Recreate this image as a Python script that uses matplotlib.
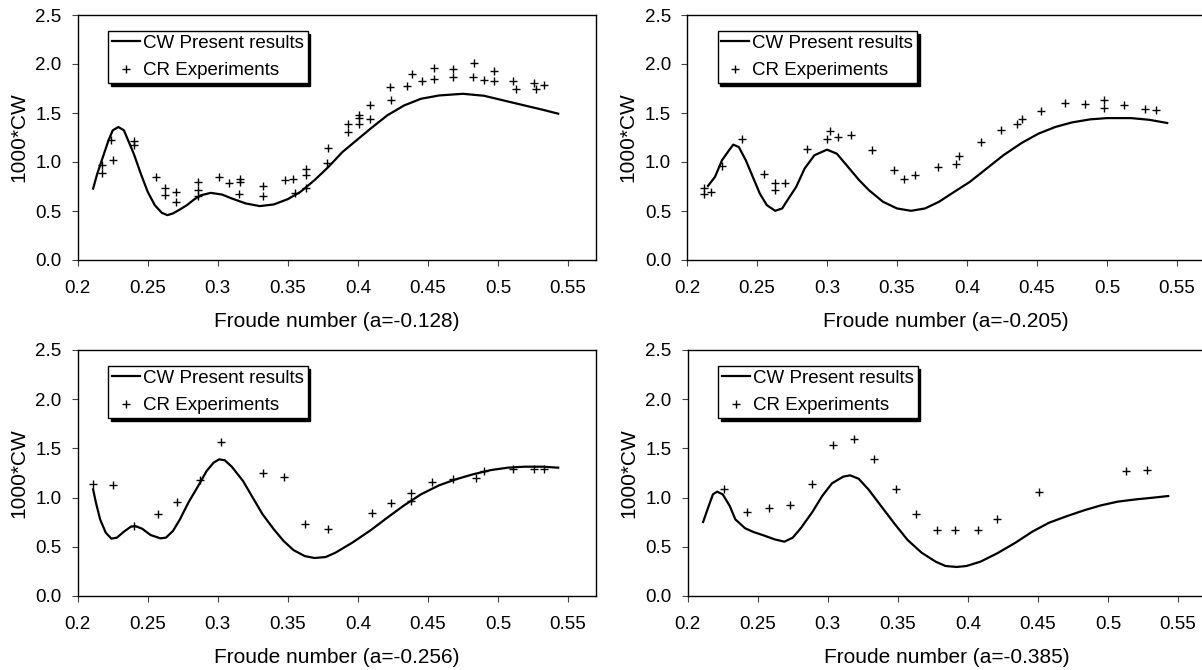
import numpy as np
import matplotlib
matplotlib.use('Agg')
import matplotlib.pyplot as plt

plt.rcParams['font.family'] = ['Liberation Sans', 'DejaVu Sans']

# a = -0.128
fn1_cw = [0.211, 0.214, 0.218, 0.222, 0.225, 0.229, 0.233, 0.236, 0.240, 0.245, 0.250, 0.255, 0.260,
          0.264, 0.268, 0.273, 0.278, 0.283, 0.288, 0.295, 0.303, 0.310, 0.320, 0.330, 0.340, 0.350,
          0.359, 0.369, 0.379, 0.389, 0.399, 0.409, 0.421, 0.433, 0.445, 0.458, 0.475, 0.490, 0.504,
          0.519, 0.532, 0.543]
cw1 = [0.729, 0.882, 1.052, 1.221, 1.323, 1.357, 1.323, 1.221, 1.085, 0.882, 0.695, 0.560, 0.482,
       0.458, 0.475, 0.516, 0.560, 0.617, 0.661, 0.685, 0.668, 0.628, 0.577, 0.550, 0.567, 0.621,
       0.695, 0.814, 0.950, 1.102, 1.221, 1.340, 1.476, 1.577, 1.645, 1.679, 1.696, 1.676, 1.628,
       1.577, 1.533, 1.493]
fn1_cr = [0.217, 0.217, 0.224, 0.225, 0.240, 0.240, 0.256, 0.262, 0.262, 0.270, 0.270, 0.286, 0.286,
          0.286, 0.301, 0.308, 0.316, 0.316, 0.315, 0.332, 0.332, 0.348, 0.354, 0.355, 0.363, 0.363,
          0.363, 0.379, 0.378, 0.393, 0.393, 0.401, 0.401, 0.401, 0.409, 0.409, 0.423, 0.424, 0.435,
          0.439, 0.446, 0.454, 0.454, 0.468, 0.468, 0.483, 0.482, 0.490, 0.497, 0.497, 0.511, 0.513,
          0.526, 0.527, 0.533]
cr1 = [0.967, 0.892, 1.228, 1.018, 1.214, 1.170, 0.848, 0.736, 0.661, 0.695, 0.594, 0.797, 0.719,
       0.651, 0.848, 0.787, 0.831, 0.797, 0.678, 0.753, 0.651, 0.814, 0.831, 0.685, 0.933, 0.865,
       0.736, 1.147, 0.994, 1.391, 1.306, 1.482, 1.452, 1.391, 1.584, 1.442, 1.764, 1.635, 1.771,
       1.900, 1.825, 1.957, 1.842, 1.950, 1.872, 2.008, 1.872, 1.832, 1.927, 1.825, 1.822, 1.747,
       1.805, 1.747, 1.788]

# a = -0.205
fn2_cw = [0.215, 0.220, 0.225, 0.230, 0.233, 0.237, 0.242, 0.247, 0.252, 0.257, 0.263, 0.268, 0.271,
          0.278, 0.284, 0.291, 0.300, 0.307, 0.314, 0.323, 0.330, 0.340, 0.350, 0.360, 0.370, 0.380,
          0.389, 0.402, 0.414, 0.426, 0.439, 0.451, 0.463, 0.475, 0.488, 0.500, 0.517, 0.530, 0.543]
cw2 = [0.756, 0.848, 1.018, 1.119, 1.177, 1.153, 1.018, 0.848, 0.678, 0.560, 0.502, 0.526, 0.594,
       0.746, 0.933, 1.069, 1.126, 1.085, 0.967, 0.814, 0.712, 0.594, 0.526, 0.502, 0.526, 0.594,
       0.678, 0.797, 0.933, 1.069, 1.194, 1.289, 1.357, 1.404, 1.435, 1.448, 1.448, 1.431, 1.398]
fn2_cr = [0.212, 0.212, 0.217, 0.225, 0.239, 0.255, 0.263, 0.263, 0.270, 0.286, 0.300, 0.302, 0.308,
          0.317, 0.332, 0.348, 0.355, 0.363, 0.379, 0.392, 0.394, 0.410, 0.424, 0.436, 0.439, 0.453,
          0.470, 0.484, 0.498, 0.498, 0.512, 0.527, 0.535]
cr2 = [0.739, 0.678, 0.695, 0.957, 1.231, 0.882, 0.787, 0.719, 0.790, 1.136, 1.231, 1.313, 1.255,
       1.272, 1.119, 0.916, 0.831, 0.872, 0.950, 0.977, 1.062, 1.204, 1.323, 1.384, 1.435, 1.520,
       1.604, 1.594, 1.635, 1.554, 1.577, 1.537, 1.526]

# a = -0.256
fn3_cw = [0.211, 0.213, 0.216, 0.220, 0.224, 0.228, 0.233, 0.238, 0.241, 0.246, 0.252, 0.259, 0.263,
          0.268, 0.273, 0.279, 0.286, 0.292, 0.297, 0.301, 0.305, 0.310, 0.318, 0.325, 0.332, 0.340,
          0.347, 0.354, 0.362, 0.369, 0.377, 0.384, 0.396, 0.409, 0.421, 0.433, 0.445, 0.458, 0.470,
          0.482, 0.495, 0.507, 0.519, 0.532, 0.543]
cw3 = [1.084, 0.949, 0.779, 0.644, 0.583, 0.593, 0.654, 0.705, 0.711, 0.684, 0.620, 0.586, 0.593,
       0.661, 0.779, 0.949, 1.118, 1.270, 1.355, 1.389, 1.379, 1.314, 1.169, 0.999, 0.830, 0.678,
       0.559, 0.467, 0.406, 0.386, 0.396, 0.440, 0.542, 0.667, 0.796, 0.921, 1.033, 1.125, 1.186,
       1.236, 1.280, 1.304, 1.314, 1.314, 1.304]
fn3_cr = [0.211, 0.225, 0.240, 0.257, 0.271, 0.287, 0.302, 0.332, 0.347, 0.362, 0.379, 0.410, 0.424,
          0.438, 0.438, 0.453, 0.468, 0.484, 0.490, 0.511, 0.526, 0.533]
cr3 = [1.142, 1.128, 0.711, 0.837, 0.955, 1.179, 1.565, 1.253, 1.209, 0.735, 0.678, 0.847, 0.942,
       1.050, 0.965, 1.159, 1.186, 1.203, 1.270, 1.294, 1.294, 1.294]

# a = -0.385
fn4_cw = [0.211, 0.215, 0.218, 0.221, 0.225, 0.230, 0.234, 0.241, 0.247, 0.254, 0.262, 0.269, 0.275,
          0.281, 0.289, 0.296, 0.303, 0.311, 0.316, 0.322, 0.329, 0.338, 0.348, 0.357, 0.367, 0.377,
          0.384, 0.392, 0.399, 0.409, 0.421, 0.434, 0.446, 0.458, 0.471, 0.483, 0.495, 0.507, 0.520,
          0.532, 0.543]
cw4 = [0.752, 0.915, 1.033, 1.060, 1.033, 0.915, 0.779, 0.688, 0.650, 0.617, 0.576, 0.552, 0.593,
       0.694, 0.854, 1.016, 1.145, 1.213, 1.226, 1.192, 1.084, 0.915, 0.728, 0.569, 0.440, 0.349,
       0.305, 0.295, 0.305, 0.349, 0.434, 0.542, 0.654, 0.745, 0.813, 0.871, 0.921, 0.959, 0.982,
       0.999, 1.016]
fn4_cr = [0.226, 0.242, 0.258, 0.273, 0.289, 0.304, 0.319, 0.333, 0.349, 0.363, 0.378, 0.391, 0.407,
          0.421, 0.451, 0.513, 0.528]
cr4 = [1.084, 0.854, 0.898, 0.921, 1.135, 1.531, 1.592, 1.389, 1.084, 0.830, 0.667, 0.667, 0.667,
       0.779, 1.060, 1.270, 1.280]

panels = [
    (fn1_cw, cw1, fn1_cr, cr1, 'Froude number (a=-0.128)'),
    (fn2_cw, cw2, fn2_cr, cr2, 'Froude number (a=-0.205)'),
    (fn3_cw, cw3, fn3_cr, cr3, 'Froude number (a=-0.256)'),
    (fn4_cw, cw4, fn4_cr, cr4, 'Froude number (a=-0.385)'),
]

W, H = 1202, 670
fig = plt.figure(figsize=(W / 100, H / 100), dpi=100)

# axes boxes in pixels: left, top, right, bottom
boxes = [(77.7, 15, 596, 260), (687, 15, 1205, 260),
         (77.7, 350, 596, 596), (687.7, 350, 1206, 596)]

for (fn_cw, cw, fn_cr, cr, xlabel), (l, t, r, b) in zip(panels, boxes):
    ax = fig.add_axes([l / W, 1 - b / H, (r - l) / W, (b - t) / H])
    ax.plot(fn_cw, cw, color='black', lw=1.6, label='CW Present results')
    ax.plot(fn_cr, cr, ls='none', marker='+', ms=6, mew=1.0, color='black', label='CR Experiments')
    ax.set_xlim(0.2, 0.57)
    ax.set_ylim(0, 2.5)
    ax.set_xticks([0.2, 0.25, 0.3, 0.35, 0.4, 0.45, 0.5, 0.55])
    ax.set_xticklabels(['0.2', '0.25', '0.3', '0.35', '0.4', '0.45', '0.5', '0.55'])
    ax.set_yticks([0, 0.5, 1.0, 1.5, 2.0, 2.5])
    ax.set_yticklabels(['0.0', '0.5', '1.0', '1.5', '2.0', '2.5'])
    ax.tick_params(direction='out', length=4.5, width=0.8, color='#444444', labelsize=13.5)
    ax.tick_params(axis='x', pad=10)
    ax.tick_params(axis='y', pad=7)
    for s in ax.spines.values():
        s.set_linewidth(1.0)
        s.set_color('black')
    ax.set_xlabel(xlabel, fontsize=15, labelpad=11)
    ax.set_ylabel('1000*CW', fontsize=15, labelpad=5)
    leg = ax.legend(loc='upper left', bbox_to_anchor=(0.059, 0.935), borderaxespad=0,
                    fontsize=13.5, frameon=True, fancybox=False, edgecolor='black',
                    framealpha=1, shadow={'color': 'black', 'alpha': 1},
                    handlelength=1.5, handletextpad=0.15, borderpad=0.2, labelspacing=0.55)
    leg.get_frame().set_linewidth(1.0)

fig.savefig('out.png', dpi=100)
